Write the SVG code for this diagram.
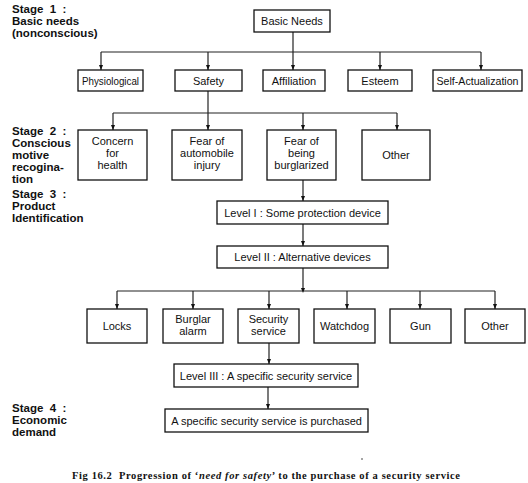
<svg xmlns="http://www.w3.org/2000/svg" width="528" height="483" viewBox="0 0 528 483">
<defs>
<style>
.box{fill:#fff;stroke:#111;stroke-width:1.3}
.t{font-family:"Liberation Sans",Arial,sans-serif;font-size:11px;fill:#111;text-anchor:middle}
.st{font-family:"Liberation Sans",Arial,sans-serif;font-size:11.5px;font-weight:bold;fill:#111;white-space:pre}
.cap{font-family:"Liberation Serif","Times New Roman",serif;font-size:10.5px;font-weight:bold;fill:#111;white-space:pre}
.c{fill:none;stroke:#222;stroke-width:1.2}
</style>
</defs>
<rect width="528" height="483" fill="#fff"/>

<g id="stages">
<text class="st" x="12" y="13" xml:space="preserve">Stage  1  :</text>
<text class="st" x="12" y="25">Basic needs</text>
<text class="st" x="12" y="37">(nonconscious)</text>
<text class="st" x="12" y="135" xml:space="preserve">Stage  2  :</text>
<text class="st" x="12" y="147">Conscious</text>
<text class="st" x="12" y="159">motive</text>
<text class="st" x="12" y="171">recogina-</text>
<text class="st" x="12" y="183">tion</text>
<text class="st" x="12" y="198" xml:space="preserve">Stage  3  :</text>
<text class="st" x="12" y="210">Product</text>
<text class="st" x="12" y="222">Identification</text>
<text class="st" x="12" y="412" xml:space="preserve">Stage  4  :</text>
<text class="st" x="12" y="424">Economic</text>
<text class="st" x="12" y="436">demand</text>
</g>

<g id="connectors">
<path class="c" d="M293,32 V70"/>
<path class="c" d="M101,52 H481"/>
<path class="c" d="M101,52 V70"/>
<path class="c" d="M208,52 V70"/>
<path class="c" d="M380,52 V70"/>
<path class="c" d="M481,52 V70"/>
<path class="c" d="M208,91 V130"/>
<path class="c" d="M113,113 H397"/>
<path class="c" d="M113,113 V130"/>
<path class="c" d="M303,113 V130"/>
<path class="c" d="M397,113 V130"/>
<path class="c" d="M303,180 V201"/>
<path class="c" d="M303,224 V246"/>
<path class="c" d="M303,268 V291"/>
<path class="c" d="M117,291 H495"/>
<path class="c" d="M117,291 V309"/>
<path class="c" d="M193,291 V309"/>
<path class="c" d="M269,291 V309"/>
<path class="c" d="M347,291 V309"/>
<path class="c" d="M420,291 V309"/>
<path class="c" d="M495,291 V309"/>
<path class="c" d="M269,343 V364"/>
<path class="c" d="M268,387 V409"/>
<g fill="#111">
<path d="M291,65 L295,65 L293,70 z"/>
<path d="M99,65 L103,65 L101,70 z"/>
<path d="M206,65 L210,65 L208,70 z"/>
<path d="M378,65 L382,65 L380,70 z"/>
<path d="M479,65 L483,65 L481,70 z"/>
<path d="M206,125 L210,125 L208,130 z"/>
<path d="M111,125 L115,125 L113,130 z"/>
<path d="M301,125 L305,125 L303,130 z"/>
<path d="M395,125 L399,125 L397,130 z"/>
<path d="M301,196 L305,196 L303,201 z"/>
<path d="M301,241 L305,241 L303,246 z"/>
<path d="M301,288 L305,288 L303,293 z"/>
<path d="M115,304 L119,304 L117,309 z"/>
<path d="M191,304 L195,304 L193,309 z"/>
<path d="M267,304 L271,304 L269,309 z"/>
<path d="M345,304 L349,304 L347,309 z"/>
<path d="M418,304 L422,304 L420,309 z"/>
<path d="M493,304 L497,304 L495,309 z"/>
<path d="M267,359 L271,359 L269,364 z"/>
<path d="M266,404 L270,404 L268,409 z"/>
</g>
</g>

<g id="basic-needs"><rect class="box" x="254" y="10" width="76" height="22"/><text class="t" x="292" y="25">Basic Needs</text></g>

<g id="physiological"><rect class="box" x="78" y="70" width="65" height="21"/><text class="t" x="110.5" y="84.5" textLength="57" lengthAdjust="spacingAndGlyphs">Physiological</text></g>
<g id="safety"><rect class="box" x="175" y="70" width="67" height="21"/><text class="t" x="208.5" y="84.5">Safety</text></g>
<g id="affiliation"><rect class="box" x="263" y="70" width="62" height="21"/><text class="t" x="294" y="84.5">Affiliation</text></g>
<g id="esteem"><rect class="box" x="348" y="70" width="64" height="21"/><text class="t" x="380" y="84.5">Esteem</text></g>
<g id="self-actualization"><rect class="box" x="433" y="70" width="89" height="21"/><text class="t" x="477.5" y="84.5" textLength="82" lengthAdjust="spacingAndGlyphs">Self-Actualization</text></g>

<g id="concern-health"><rect class="box" x="78" y="130" width="69" height="50"/><text class="t" x="112.5" y="145">Concern</text><text class="t" x="112.5" y="157">for</text><text class="t" x="112.5" y="169">health</text></g>
<g id="fear-auto"><rect class="box" x="172" y="130" width="70" height="50"/><text class="t" x="207" y="145">Fear of</text><text class="t" x="207" y="157">automobile</text><text class="t" x="207" y="169">injury</text></g>
<g id="fear-burglar"><rect class="box" x="267" y="130" width="69" height="50"/><text class="t" x="301.5" y="145">Fear of</text><text class="t" x="301.5" y="157">being</text><text class="t" x="301.5" y="169">burglarized</text></g>
<g id="other-motive"><rect class="box" x="362" y="130" width="68" height="50"/><text class="t" x="396" y="159">Other</text></g>

<g id="level1"><rect class="box" x="217" y="201" width="171" height="23"/><text class="t" x="302.5" y="216.5">Level I : Some protection device</text></g>
<g id="level2"><rect class="box" x="217" y="246" width="171" height="22"/><text class="t" x="302.5" y="261">Level II : Alternative devices</text></g>

<g id="locks"><rect class="box" x="87" y="309" width="60" height="34"/><text class="t" x="117" y="330">Locks</text></g>
<g id="burglar-alarm"><rect class="box" x="163" y="309" width="60" height="34"/><text class="t" x="193" y="323">Burglar</text><text class="t" x="193" y="335">alarm</text></g>
<g id="security-service"><rect class="box" x="238" y="309" width="61" height="34"/><text class="t" x="268.5" y="323">Security</text><text class="t" x="268.5" y="335">service</text></g>
<g id="watchdog"><rect class="box" x="314" y="309" width="61" height="34"/><text class="t" x="344.5" y="330">Watchdog</text></g>
<g id="gun"><rect class="box" x="390" y="309" width="61" height="34"/><text class="t" x="420.5" y="330">Gun</text></g>
<g id="other-device"><rect class="box" x="465" y="309" width="60" height="34"/><text class="t" x="495" y="330">Other</text></g>

<g id="level3"><rect class="box" x="174" y="364" width="184" height="23"/><text class="t" x="266" y="379.5">Level III : A specific security service</text></g>
<g id="purchased"><rect class="box" x="165" y="409" width="203" height="23"/><text class="t" x="266.5" y="424.5">A specific security service is purchased</text></g>

<circle cx="362" cy="459" r="0.8" fill="#333"/>
<text class="cap" x="72" y="479" textLength="388" lengthAdjust="spacing" xml:space="preserve">Fig 16.2  Progression of ‘<tspan font-style="italic">need for safety</tspan>’ to the purchase of a security service</text>
</svg>
